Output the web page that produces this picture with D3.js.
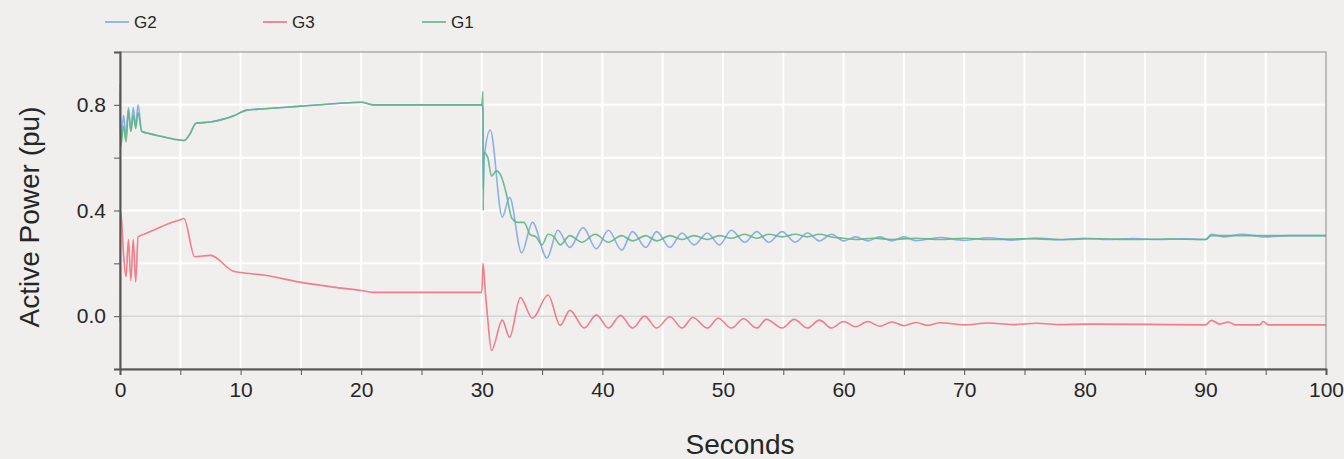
<!DOCTYPE html>
<meta charset="utf-8">
<script src="https://d3js.org/d3.v7.min.js"></script>
<style>
  body { margin: 0; background: #f0efee; }
  text { font-family: "Liberation Sans", Arial, sans-serif; fill: #262626; }
</style>
<div id="my_dataviz"></div>
<script>
  // series names and colours
  var seriesNames = ["G2", "G3", "G1"];
  var seriesColors = ["#7fa8e2", "#f2707f", "#5fb589"];

  // [seconds, active power pu]
  var g1 = [[0,0.88],[0.05,0.64],[0.3,0.72],[0.5,0.66],[0.7,0.78],[0.9,0.70],[1.1,0.76],[1.3,0.71],[1.5,0.77],[1.8,0.70],
    [2.5,0.69],[3.5,0.68],[4.5,0.67],[5.3,0.665],[5.8,0.69],[6.3,0.73],[7.5,0.735],[8.5,0.745],[9.5,0.76],[10.5,0.78],
    [12,0.785],[15,0.795],[18,0.805],[20,0.81],[21,0.80],[25,0.80],[30,0.80],[30.1,0.85],[30.12,0.40],[30.15,0.62],
    [30.5,0.60],[30.8,0.53],[31.2,0.55],[31.6,0.53],[32.0,0.47],[32.5,0.37],[33.0,0.355],[33.5,0.355],[34.0,0.31],[34.5,0.30],
    [35.0,0.27],[35.5,0.31],[36.0,0.30],[36.5,0.27],[37.3,0.305],[38.3,0.28],[39.4,0.31],[40.5,0.28],[41.6,0.305],[42.5,0.285],
    [43.6,0.305],[44.5,0.285],[45.6,0.305],[46.6,0.29],[47.6,0.305],[48.7,0.29],[49.7,0.305],[50.7,0.295],[51.8,0.31],[52.8,0.295],
    [53.8,0.31],[54.9,0.30],[56,0.31],[57,0.30],[58,0.31],[59,0.30],[60,0.295],[61,0.29],[62.5,0.295],[64,0.29],
    [66,0.295],[68,0.29],[70,0.295],[72,0.29],[75,0.293],[78,0.29],[81,0.293],[84,0.29],[87,0.292],[90,0.29],
    [90.5,0.305],[92,0.305],[95,0.305],[100,0.305]];

  var g2 = [[0,0.85],[0.05,0.66],[0.3,0.76],[0.5,0.68],[0.7,0.79],[0.9,0.70],[1.1,0.79],[1.3,0.72],[1.5,0.80],[1.8,0.70],
    [2.5,0.69],[3.5,0.68],[4.5,0.67],[5.3,0.665],[5.8,0.69],[6.3,0.73],[7.5,0.735],[8.5,0.745],[9.5,0.76],[10.5,0.78],
    [12,0.785],[15,0.795],[18,0.805],[20,0.81],[21,0.80],[25,0.80],[30,0.80],[30.1,0.78],[30.12,0.48],[30.2,0.60],
    [30.7,0.705],[31.7,0.375],[32.3,0.45],[33.3,0.24],[34.2,0.355],[35.4,0.22],[36.3,0.325],[37.3,0.26],[38.4,0.335],[39.5,0.255],
    [40.5,0.325],[41.6,0.25],[42.5,0.32],[43.6,0.26],[44.5,0.32],[45.6,0.26],[46.6,0.315],[47.6,0.27],[48.7,0.315],[49.7,0.27],
    [50.7,0.325],[51.8,0.28],[52.8,0.32],[53.8,0.28],[54.9,0.32],[56,0.28],[57,0.315],[58,0.285],[59,0.31],[60,0.285],
    [61,0.30],[62,0.285],[63,0.30],[64,0.285],[65,0.30],[66,0.286],[68,0.298],[70,0.287],[72,0.297],[74,0.288],
    [76,0.296],[78,0.289],[80,0.295],[82,0.29],[84,0.294],[86,0.29],[88,0.293],[90,0.29],[90.5,0.31],[91.5,0.30],
    [93,0.31],[95,0.30],[97,0.305],[100,0.305]];

  var g3 = [[0,-0.02],[0.03,0.40],[0.1,0.38],[0.3,0.23],[0.5,0.15],[0.7,0.29],[0.9,0.135],[1.1,0.29],[1.3,0.13],[1.5,0.30],
    [2,0.31],[3,0.33],[4,0.35],[5,0.365],[5.3,0.37],[6.2,0.225],[7.5,0.23],[9.4,0.17],[10,0.165],[12,0.155],
    [15,0.128],[17.7,0.11],[20,0.097],[21,0.09],[25,0.09],[30,0.09],[30.1,0.20],[30.3,0.087],[30.5,-0.015],[30.8,-0.13],
    [31.7,-0.015],[32.3,-0.08],[33.2,0.07],[34.2,-0.008],[35.5,0.08],[36.5,-0.035],[37.3,0.022],[38.5,-0.045],[39.5,0.005],[40.5,-0.045],
    [41.5,0.003],[42.5,-0.045],[43.5,0.0],[44.5,-0.045],[45.6,-0.002],[46.6,-0.045],[47.5,-0.005],[48.7,-0.045],[49.6,-0.008],[50.7,-0.045],
    [51.7,-0.01],[52.8,-0.045],[53.6,-0.012],[54.9,-0.045],[55.9,-0.012],[57,-0.045],[58,-0.015],[59,-0.045],[60,-0.02],[61,-0.04],
    [62,-0.02],[63,-0.038],[64,-0.022],[65,-0.036],[66,-0.024],[67,-0.035],[68,-0.025],[70,-0.033],[72,-0.026],[74,-0.032],
    [76,-0.027],[78,-0.032],[80,-0.03],[85,-0.031],[90,-0.033],[90.5,-0.016],[91.2,-0.03],[91.9,-0.022],[92.5,-0.033],[94.5,-0.033],
    [94.8,-0.02],[95.2,-0.033],[100,-0.033]];

  var xTicks = [0, 10, 20, 30, 40, 50, 60, 70, 80, 90, 100];
  var yTicks = [0.0, 0.4, 0.8];

  var margin = {top: 52, right: 18, bottom: 90, left: 120},
    width = 1344 - margin.left - margin.right,
    height = 459 - margin.top - margin.bottom;

  var svg = d3.select("#my_dataviz")
    .append("svg")
    .attr("width", 1344)
    .attr("height", 459)
    .append("g")
    .attr("transform", "translate(" + margin.left + "," + margin.top + ")");

  var x = d3.scaleLinear().domain([0, 100]).range([0, width]);
  var y = d3.scaleLinear().domain([-0.2, 1.0]).range([height, 0]);

  // grid
  svg.append("g")
    .selectAll("line.vg")
    .data(d3.range(5, 100, 5))
    .enter().append("line")
    .attr("x1", function(d) { return x(d); })
    .attr("x2", function(d) { return x(d); })
    .attr("y1", 0).attr("y2", height)
    .style("stroke", "#ffffff").style("stroke-width", 2);

  svg.append("g")
    .selectAll("line.hg")
    .data([0.2, 0.4, 0.6, 0.8])
    .enter().append("line")
    .attr("x1", 0).attr("x2", width)
    .attr("y1", function(d) { return y(d); })
    .attr("y2", function(d) { return y(d); })
    .style("stroke", "#ffffff").style("stroke-width", 2);

  // zero line
  svg.append("line")
    .attr("x1", 0).attr("x2", width)
    .attr("y1", y(0)).attr("y2", y(0))
    .style("stroke", "#d6d6d8").style("stroke-width", 1.5);

  // lines
  var line = d3.line()
    .curve(d3.curveMonotoneX)
    .x(function(d) { return x(d[0]); })
    .y(function(d) { return y(d[1]); });

  var drawOrder = [[g3, 1], [g2, 0], [g1, 2]];
  drawOrder.forEach(function(s) {
    svg.append("path")
      .datum(s[0])
      .attr("d", line)
      .style("fill", "none")
      .style("stroke", seriesColors[s[1]])
      .style("stroke-width", 1.6)
      .style("opacity", 0.9);
  });

  // frame
  svg.append("rect")
    .attr("x", 0).attr("y", 0)
    .attr("width", width).attr("height", height)
    .style("fill", "none")
    .style("stroke", "#8a8a8a")
    .style("stroke-width", 1);

  // axes
  var xAxis = svg.append("g")
    .attr("transform", "translate(0," + height + ")")
    .call(d3.axisBottom(x).tickValues(d3.range(0, 101, 5)).tickSize(6)
      .tickFormat(function(d) { return xTicks.indexOf(d) >= 0 ? d : ""; }));
  xAxis.selectAll("text").style("font-size", "21px").attr("y", 13);
  xAxis.select(".domain").style("stroke", "#555").style("stroke-width", 2);
  xAxis.selectAll(".tick line").style("stroke", "#555");

  var yAxis = svg.append("g")
    .call(d3.axisLeft(y).tickValues([-0.2, 0, 0.2, 0.4, 0.6, 0.8]).tickSize(6)
      .tickFormat(function(d) { return yTicks.indexOf(d) >= 0 ? d3.format(".1f")(d) : ""; }));
  yAxis.selectAll("text").style("font-size", "21px").attr("x", -14);
  yAxis.select(".domain").style("stroke", "#555").style("stroke-width", 2);
  yAxis.selectAll(".tick line").style("stroke", "#555");

  // axis titles
  svg.append("text")
    .attr("x", 740 - margin.left)
    .attr("y", height + 85)
    .attr("text-anchor", "middle")
    .style("font-size", "28px")
    .text("Seconds");

  svg.append("text")
    .attr("transform", "rotate(-90)")
    .attr("x", -(217 - margin.top))
    .attr("y", -81)
    .attr("text-anchor", "middle")
    .style("font-size", "28px")
    .text("Active Power (pu)");

  // legend
  var legendX = [105, 263, 422];
  seriesNames.forEach(function(name, i) {
    var lg = d3.select("svg").append("g")
      .attr("transform", "translate(" + legendX[i] + ",22)");
    lg.append("line")
      .attr("x1", 0).attr("x2", 24)
      .attr("y1", 0).attr("y2", 0)
      .style("stroke", seriesColors[i]).style("stroke-width", 1.6);
    lg.append("text")
      .attr("x", 29).attr("y", 6)
      .style("font-size", "17px")
      .text(name);
  });
</script>
